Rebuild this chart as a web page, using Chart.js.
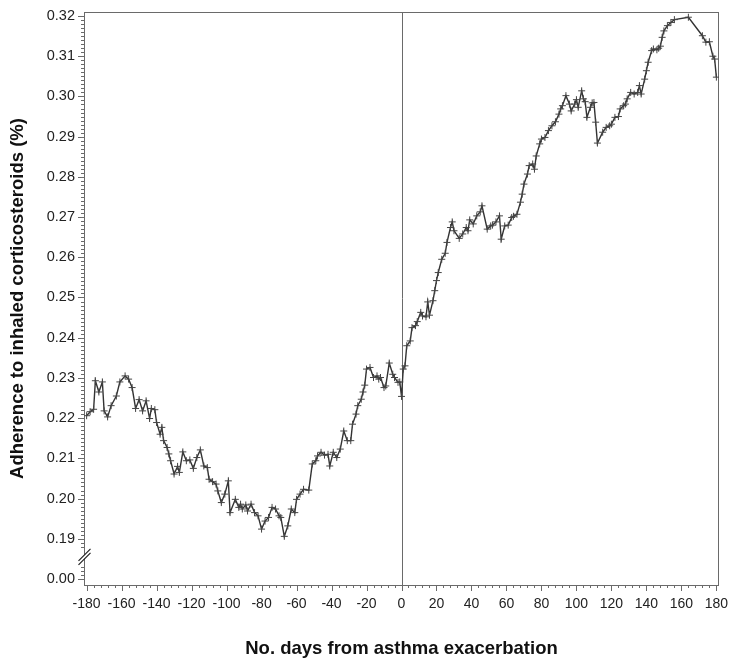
<!DOCTYPE html>
<html>
<head>
<meta charset="utf-8">
<script src="https://cdn.jsdelivr.net/npm/chart.js@4.4.1/dist/chart.umd.min.js"></script>
<style>
    html, body { margin: 0; padding: 0; background: #fff; }
    #wrap { width: 739px; height: 670px; position: relative; }
</style>
</head>
<body>
<div id="wrap"><canvas id="adherence-chart"></canvas></div>
<script>
// Days relative to the asthma exacerbation
const days = [
    -180, -178, -176, -175, -173, -171, -170, -168, -166,
    -163, -161, -158, -156, -154, -152, -150, -148, -146, -144,
    -143, -141, -140, -138, -137, -136, -134, -133, -132, -130,
    -128, -127, -125, -123, -121, -119, -117, -115, -113, -111,
    -110, -108, -106, -105, -103, -101, -99, -98, -95, -93,
    -92, -91, -89, -88, -86, -84, -82, -80, -78, -76,
    -74, -72, -70, -69, -67, -65, -63, -61, -60, -58,
    -56, -53, -51, -49, -48, -46, -44, -42, -41, -39,
    -37, -35, -33, -31, -29, -28, -26, -25, -23, -22,
    -21, -20, -18, -16, -14, -13, -12, -10, -9, -7,
    -5, -4, -2, -1, 0, 1, 2, 3, 5, 6,
    8, 9, 11, 12, 14, 15, 16, 18, 19, 20,
    21, 23, 25, 26, 28, 29, 30, 33, 35, 37,
    38, 39, 41, 43, 45, 46, 49, 51, 52, 54,
    56, 57, 59, 61, 63, 64, 66, 68, 69, 70,
    72, 73, 75, 76, 77, 79, 80, 82, 84, 86,
    88, 90, 91, 92, 94, 96, 97, 99, 100, 101,
    103, 104, 105, 106, 108, 109, 110, 111, 112, 115,
    117, 119, 120, 122, 124, 125, 127, 128, 129, 131,
    133, 135, 136, 137, 139, 140, 141, 143, 144, 146,
    147, 148, 149, 150, 152, 154, 156, 164, 172, 174,
    176, 178, 179, 180
];

// Adherence to inhaled corticosteroids
const adherence = [
    0.2206, 0.2216, 0.2222, 0.2293, 0.2265, 0.2290, 0.2218, 0.2203, 0.2231,
    0.2255, 0.2290, 0.2305, 0.2297, 0.2276, 0.2224, 0.2246, 0.2218, 0.2243, 0.2199,
    0.2224, 0.2221, 0.2189, 0.2160, 0.2177, 0.2144, 0.2127, 0.2111, 0.2094, 0.2061,
    0.2080, 0.2065, 0.2116, 0.2094, 0.2096, 0.2075, 0.2102, 0.2121, 0.2081, 0.2077,
    0.2048, 0.2042, 0.2036, 0.2019, 0.1990, 0.2011, 0.2044, 0.1965, 0.1998, 0.1978,
    0.1986, 0.1974, 0.1984, 0.1969, 0.1986, 0.1965, 0.1957, 0.1924, 0.1944, 0.1953,
    0.1978, 0.1974, 0.1957, 0.1953, 0.1906, 0.1932, 0.1974, 0.1965, 0.1998, 0.2011,
    0.2023, 0.2021, 0.2086, 0.2094, 0.2106, 0.2115, 0.2108, 0.2110, 0.2081, 0.2115,
    0.2102, 0.2123, 0.2168, 0.2144, 0.2144, 0.2185, 0.2210, 0.2231, 0.2247, 0.2265,
    0.2282, 0.2322, 0.2326, 0.2301, 0.2305, 0.2297, 0.2301, 0.2276, 0.2280, 0.2337,
    0.2309, 0.2301, 0.2289, 0.2290, 0.2254, 0.2322, 0.2330, 0.2380, 0.2392, 0.2425,
    0.2430, 0.2440, 0.2463, 0.2454, 0.2452, 0.2489, 0.2456, 0.2492, 0.2517, 0.2542,
    0.2562, 0.2595, 0.2610, 0.2637, 0.2674, 0.2688, 0.2666, 0.2647, 0.2658, 0.2674,
    0.2666, 0.2693, 0.2683, 0.2703, 0.2713, 0.2728, 0.2670, 0.2678, 0.2680, 0.2688,
    0.2703, 0.2645, 0.2678, 0.2680, 0.2699, 0.2702, 0.2707, 0.2737, 0.2757, 0.2782,
    0.2807, 0.2828, 0.2832, 0.2819, 0.2852, 0.2882, 0.2894, 0.2898, 0.2915, 0.2927,
    0.2937, 0.2956, 0.2969, 0.2977, 0.3002, 0.2981, 0.2964, 0.2981, 0.2992, 0.2973,
    0.3014, 0.2994, 0.2987, 0.2948, 0.2973, 0.2984, 0.2985, 0.2936, 0.2884, 0.2911,
    0.2923, 0.2927, 0.2931, 0.2948, 0.2950, 0.2969, 0.2977, 0.2981, 0.2994, 0.3010,
    0.3006, 0.3010, 0.3027, 0.3006, 0.3043, 0.3064, 0.3085, 0.3114, 0.3118, 0.3116,
    0.3120, 0.3125, 0.3147, 0.3163, 0.3176, 0.3184, 0.3191, 0.3197, 0.3151, 0.3135,
    0.3136, 0.3100, 0.3093, 0.3048
];

// Axis ticks (the lowest y tick stands for 0.00, below the axis break)
const xTickValues = [-180, -160, -140, -120, -100, -80, -60, -40, -20, 0, 20, 40, 60, 80, 100, 120, 140, 160, 180];
const yTickValues = [0.18, 0.19, 0.20, 0.21, 0.22, 0.23, 0.24, 0.25, 0.26, 0.27, 0.28, 0.29, 0.30, 0.31, 0.32];
const yTickLabels = ["0.00", "0.19", "0.20", "0.21", "0.22", "0.23", "0.24", "0.25", "0.26", "0.27", "0.28", "0.29", "0.30", "0.31", "0.32"];
const exacerbationDay = 0;
const breakValue = 0.1855;

const FONT = "'Liberation Sans', Arial, Helvetica, sans-serif";
const AXIS_COLOR = "#6a6a6a";

// frame, outward major/minor ticks, reference line and axis break
const decorations = {
    id: "decorations",
    beforeDatasetsDraw(chart) {
        const { ctx, chartArea: a, scales: { x, y } } = chart;
        ctx.save();
        ctx.strokeStyle = AXIS_COLOR;
        ctx.lineWidth = 1;
        ctx.strokeRect(a.left + 0.5, a.top + 0.5, a.right - a.left - 1, a.bottom - a.top);

        const x0 = Math.round(x.getPixelForValue(exacerbationDay)) + 0.5;
        ctx.beginPath();
        ctx.moveTo(x0, a.top);
        ctx.lineTo(x0, a.bottom);

        for (let d = -180; d <= 180; d += 4) {
            const px = Math.round(x.getPixelForValue(d)) + 0.5;
            const len = d % 20 === 0 ? 6 : 3;
            ctx.moveTo(px, a.bottom);
            ctx.lineTo(px, a.bottom + len);
        }

        const breakPx = y.getPixelForValue(breakValue);
        for (let i = 180; i <= 320; i++) {
            const py = Math.round(y.getPixelForValue(i / 1000)) + 0.5;
            if (Math.abs(py - breakPx) < 8) continue;
            const len = i % 10 === 0 ? 6 : 3;
            ctx.moveTo(a.left, py);
            ctx.lineTo(a.left - len, py);
        }
        ctx.stroke();
        ctx.restore();
    },
    afterDraw(chart) {
        const { ctx, chartArea: a, scales: { y } } = chart;
        const cy = y.getPixelForValue(breakValue);
        const L = a.left + 0.5;
        ctx.save();
        ctx.fillStyle = "#fff";
        ctx.beginPath();
        ctx.moveTo(L - 6, cy + 4);
        ctx.lineTo(L + 6, cy - 8);
        ctx.lineTo(L + 6, cy - 4);
        ctx.lineTo(L - 6, cy + 8);
        ctx.closePath();
        ctx.fill();
        ctx.strokeStyle = "#222";
        ctx.lineWidth = 1.2;
        ctx.beginPath();
        ctx.moveTo(L - 6, cy + 4);
        ctx.lineTo(L + 6, cy - 8);
        ctx.moveTo(L - 6, cy + 8);
        ctx.lineTo(L + 6, cy - 4);
        ctx.stroke();
        ctx.restore();
    }
};

function renderChart() {
    const ctx = document.getElementById("adherence-chart").getContext("2d");
    new Chart(ctx, {
        type: "line",
        data: {
            datasets: [{
                label: "Adherence",
                data: days.map((d, i) => ({ x: d, y: adherence[i] })),
                borderColor: "#333",
                borderWidth: 1.4,
                pointStyle: "cross",
                pointRadius: 3.5,
                pointBorderColor: "#444",
                pointBorderWidth: 1,
                tension: 0,
                fill: false
            }]
        },
        options: {
            responsive: true,
            maintainAspectRatio: false,
            animation: false,
            layout: { padding: { top: 12, right: 20, left: 0, bottom: 0 } },
            plugins: { legend: { display: false }, tooltip: { enabled: false } },
            scales: {
                x: {
                    type: "linear",
                    min: -181.5,
                    max: 181.5,
                    grid: { display: false, drawTicks: false },
                    border: { display: false },
                    afterBuildTicks: (s) => { s.ticks = xTickValues.map((v) => ({ value: v })); },
                    afterFit: (s) => {
                        s.height = 85;
                        s.paddingLeft = 0;
                        s.paddingRight = 0;
                    },
                    ticks: {
                        autoSkip: false,
                        maxRotation: 0,
                        padding: 11,
                        color: "#222",
                        font: { family: FONT, size: 14 },
                        callback: (v) => String(v)
                    },
                    title: {
                        display: true,
                        text: "No. days from asthma exacerbation",
                        color: "#111",
                        font: { family: FONT, size: 18.5, weight: "bold" },
                        padding: { top: 0, bottom: 10 }
                    }
                },
                y: {
                    type: "linear",
                    min: 0.1785,
                    max: 0.321,
                    grid: { display: false, drawTicks: false },
                    border: { display: false },
                    afterBuildTicks: (s) => { s.ticks = yTickValues.map((v) => ({ value: v })); },
                    afterFit: (s) => {
                        s.width = 84;
                        s.paddingTop = 0;
                        s.paddingBottom = 0;
                    },
                    ticks: {
                        autoSkip: false,
                        padding: 9,
                        color: "#222",
                        font: { family: FONT, size: 14.5 },
                        callback: (v, i) => yTickLabels[i]
                    },
                    title: {
                        display: true,
                        text: "Adherence to inhaled corticosteroids (%)",
                        color: "#111",
                        font: { family: FONT, size: 18.5, weight: "bold" },
                        padding: { top: 7, bottom: 0 }
                    }
                }
            }
        },
        plugins: [decorations]
    });
}

document.addEventListener("DOMContentLoaded", renderChart);
</script>
</body>
</html>
